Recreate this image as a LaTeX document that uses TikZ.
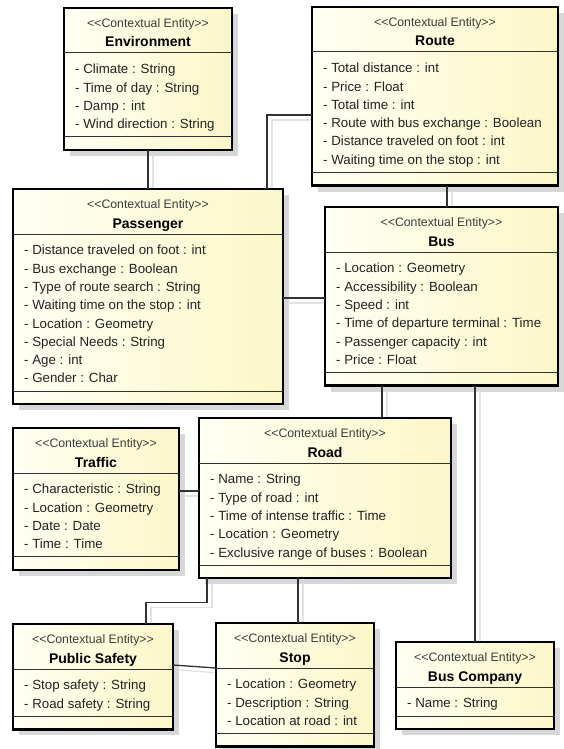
\documentclass[tikz,border=0pt]{standalone}
\usepackage{fontspec}
\setmainfont{Liberation Sans}
\usetikzlibrary{calc}
\pgfdeclarelayer{bg}
\pgfdeclarelayer{shadow}
\pgfsetlayers{bg,shadow,main}

\definecolor{boxleft}{RGB}{255,255,243}
\definecolor{boxright}{RGB}{252,247,200}
\definecolor{inkline}{RGB}{50,50,50}
\definecolor{shadowgray}{RGB}{215,215,215}
\definecolor{linkshadow}{RGB}{226,226,226}
\definecolor{attrink}{RGB}{35,35,35}
\definecolor{stereoink}{RGB}{60,60,60}

\tikzset{
  entitybox/.style={rectangle, draw=black, line width=2.4pt,
    left color=boxleft, right color=boxright, inner sep=0pt, outer sep=0pt},
  compartment/.style={draw=inkline, line width=1pt},
  stereotype/.style={font=\fontsize{12.3}{14}\selectfont, text=stereoink,
    inner sep=0pt, anchor=base},
  classname/.style={font=\fontsize{14}{16}\selectfont\bfseries, text=black,
    inner sep=0pt, anchor=base},
  attribute/.style={font=\fontsize{13.3}{15}\selectfont, text=attrink,
    inner sep=0pt, anchor=base west},
  conn/.style={draw=inkline, line width=1.3pt},
  connshade/.style={draw=linkshadow, line width=1.3pt,
    transform canvas={xshift=5pt,yshift=-5pt}},
}

% \entity{name}{left}{top}{width}{class name}{number of attributes}{attributes}
\newcommand\entity[7]{%
  \pgfmathsetmacro\entH{68.7+18.3*#6}%
  \pgfmathsetmacro\entSep{55.7+18.3*#6}%
  \begin{pgfonlayer}{shadow}
    \fill[shadowgray] (#2+6,#3+6) rectangle ++(#4,\entH);
  \end{pgfonlayer}
  \node[entitybox, minimum width=#4pt, minimum height=\entH pt,
        anchor=north west] (#1) at (#2,#3) {};
  \draw[compartment] ([yshift=-45pt]#1.north west) -- ([yshift=-45pt]#1.north east);
  \draw[compartment] ([yshift=-\entSep pt]#1.north west) -- ([yshift=-\entSep pt]#1.north east);
  \node[stereotype] (#1-st) at ([yshift=-19.9pt]#1.north)
    {<\kern0pt<Contextual Entity>\kern0pt>};
  \node[classname] (#1-nm) at ([yshift=-39pt]#1.north) {#5};
  \foreach \entAttr [count=\i] in {#7} {
    \pgfmathsetmacro\entY{65.8+18.3*(\i-1)}
    \node[attribute] (#1-at\i) at ([xshift=11pt,yshift=-\entY pt]#1.north west) {\entAttr};
  }%
}

% connector with its drop shadow
\newcommand\link[1]{%
  \begin{pgfonlayer}{shadow}\draw[connshade] #1;\end{pgfonlayer}
  \draw[conn] #1;
}

\begin{document}
\begin{tikzpicture}[x=1pt,y=-1pt]
  \useasboundingbox (0,0) rectangle (564,749);
  \begin{pgfonlayer}{bg}
    \fill[white] (0,0) rectangle (564,749);
  \end{pgfonlayer}

  \entity{env}{64}{8}{168}{Environment}{4}{- Climate : String, - Time of day : String,
    - Damp : int, - Wind direction : String}
  \entity{route}{312}{7}{246}{Route}{6}{- Total distance : int, - Price : Float,
    - Total time : int, - Route with bus exchange : Boolean,
    - Distance traveled on foot : int, - Waiting time on the stop : int}
  \entity{passenger}{13}{189}{270}{Passenger}{8}{- Distance traveled on foot : int,
    - Bus exchange : Boolean, - Type of route search : String,
    - Waiting time on the stop : int, - Location : Geometry,
    - Special Needs : String, - Age : int, - Gender : Char}
  \entity{bus}{325}{207}{233}{Bus}{6}{- Location : Geometry, - Accessibility : Boolean,
    - Speed : int, - Time of departure terminal : Time,
    - Passenger capacity : int, - Price : Float}
  \entity{traffic}{13}{428}{166}{Traffic}{4}{- Characteristic : String,
    - Location : Geometry, - Date : Date, - Time : Time}
  \entity{road}{199}{418}{252}{Road}{5}{- Name : String, - Type of road : int,
    - Time of intense traffic : Time, - Location : Geometry,
    - Exclusive range of buses : Boolean}
  \entity{safety}{13}{624}{160}{Public Safety}{2}{- Stop safety : String,
    - Road safety : String}
  \entity{stop}{216}{623}{158}{Stop}{3}{- Location : Geometry,
    - Description : String, - Location at road : int}
  \entity{company}{396}{642}{158}{Bus Company}{1}{- Name : String}

  % associations
  \link{(env.south) -- (env.south |- passenger.north)}
  \link{([xshift=254pt]passenger.north west) |- ([yshift=-108pt]route.north west)}
  \link{([xshift=135pt]route.south west) -- ([xshift=122pt]bus.north west)}
  \link{([yshift=-109pt]passenger.north east) -- ([yshift=-91pt]bus.north west)}
  \link{([xshift=57pt]bus.south west) -- ([xshift=183pt]road.north west)}
  \link{([xshift=150pt]bus.south west) -- ([xshift=79pt]company.north west)}
  \link{([yshift=-63pt]traffic.north east) -- ([yshift=-73pt]road.north west)}
  \link{([xshift=99pt]road.south west) -- ([xshift=82pt]stop.north west)}
  \link{([xshift=8pt]road.south west) -- ++(0,24) -| ([xshift=133pt]safety.north west)}
  \link{([yshift=-41pt]safety.north east) -- ([yshift=-45pt]stop.north west)}
\end{tikzpicture}
\end{document}
